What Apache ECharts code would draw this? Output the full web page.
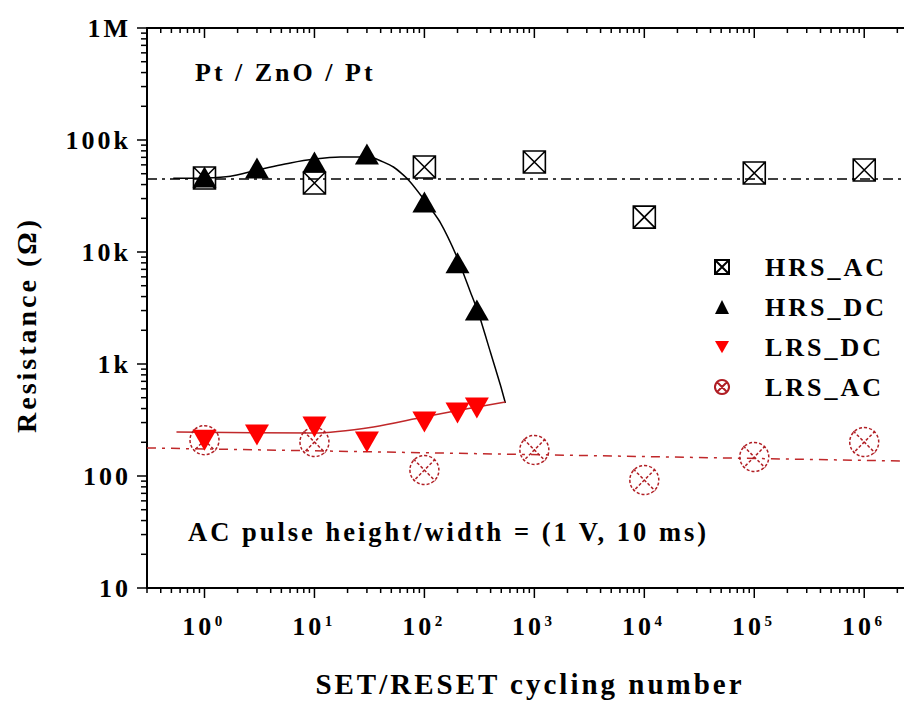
<!DOCTYPE html>
<html>
<head>
<meta charset="utf-8">
<script src="https://cdn.jsdelivr.net/npm/echarts@6/dist/echarts.min.js"></script>
<style>
  html, body { margin: 0; padding: 0; background: #fff; }
  #chart { width: 904px; height: 701px; }
  #chart text { letter-spacing: 3px; }
</style>
</head>
<body>
<div id="chart"></div>
<script>
// measured points
const hrsAcX = [1, 10, 100, 1000, 10000, 100000, 1000000];
const hrsAcY = [45800, 41300, 57400, 63600, 20500, 50700, 54000];

const hrsDcX = [1, 3, 10, 30, 100, 200, 300];
const hrsDcY = [46800, 56200, 63700, 75000, 27900, 8000, 3030];

const lrsDcX = [1, 3, 10, 30, 100, 200, 300];
const lrsDcY = [209, 232, 274, 201, 303, 365, 405];

const lrsAcX = [1, 10, 100, 1000, 10000, 100000, 1000000];
const lrsAcY = [209, 201, 113, 171, 92, 148, 201];

// fitted / guide lines
const hrsDcFitX = [0.52, 1, 1.72, 3.03, 6.05, 10, 17.2, 26.2, 34.4, 52.3, 71.6, 100, 140, 200, 262, 310, 398, 491, 545];
const hrsDcFitY = [45500, 45800, 47500, 54000, 62400, 67600, 70500, 70500, 69000, 57400, 44000, 29100, 18200, 8800, 4390, 2850, 1280, 650, 449];

const lrsDcFitX = [0.556, 9.8, 34.4, 98, 212, 545];
const lrsDcFitY = [247, 242, 274, 336, 388, 458];

const hrsAcMeanX = [0.3, 2.3e6];
const hrsAcMeanY = [44900, 44900];

const lrsAcTrendX = [0.3, 2.3e6];
const lrsAcTrendY = [178, 136];

// axes
const xMin = 0.3, xMax = 2.3e6;
const yMin = 10, yMax = 1e6;
const yTickValues = [10, 100, 1000, 10000, 100000, 1000000];
const yTickLabels = ['10', '100', '1k', '10k', '100k', '1M'];
const xTickValues = [1, 10, 100, 1000, 10000, 100000, 1000000];
const xTickLabels = ['0', '1', '2', '3', '4', '5', '6'];

const FONT = '"Liberation Serif", "Times New Roman", serif';

function pairs(xs, ys) {
    return xs.map((x, i) => [x, ys[i]]);
}

// tick marks (major + 2..9 minor), lengths in px
const xTicks = [];
for (let k = -1; k <= 6; k++) {
    for (let m = 1; m <= 9; m++) {
        const v = m * Math.pow(10, k);
        if (v >= xMin && v <= xMax) xTicks.push([v, yMin, m === 1 ? 10 : 5]);
    }
}
const yTicks = [];
for (let k = 1; k <= 6; k++) {
    for (let m = 1; m <= 9; m++) {
        const v = m * Math.pow(10, k);
        if (v <= yMax) yTicks.push([xMin, v, m === 1 ? 10 : 6]);
    }
}

const squareX = 'path://M0,0H20V20H0Z M0,0L20,20 M20,0L0,20';
const circleX = 'path://M12,2A10,10,0,1,1,11.99,2Z M4.5,4.5L19.5,19.5 M19.5,4.5L4.5,19.5';
const downTri = 'path://M0,0H24L12,21Z';

const red = '#c0282a';

const chart = echarts.init(document.getElementById('chart'), null, {renderer: 'svg'});

chart.setOption({
    animation: false,
    backgroundColor: '#fff',
    grid: {left: 147, right: 0, top: 28, bottom: 113, outerBoundsMode: 'none'},
    xAxis: [{
        type: 'log', logBase: 10, min: xMin, max: xMax, splitNumber: 7,
        axisLine: {lineStyle: {color: '#000', width: 2}},
        axisTick: {show: false},
        splitLine: {show: false},
        axisLabel: {
            margin: 21,
            formatter: function (v) {
                const i = xTickValues.findIndex(t => Math.abs(Math.log10(t) - Math.log10(v)) < 1e-6);
                if (i < 0) return '';
                return '{b|10}{s|' + xTickLabels[i] + '}';
            },
            rich: {
                b: {fontFamily: FONT, fontWeight: 'bold', fontSize: 26, color: '#000', lineHeight: 30, verticalAlign: 'bottom'},
                s: {fontFamily: FONT, fontWeight: 'bold', fontSize: 15, color: '#000', lineHeight: 16, verticalAlign: 'top', padding: [4, 0, 0, 5]}
            }
        }
    }, {
        type: 'log', logBase: 10, min: xMin, max: xMax, position: 'top',
        axisLine: {lineStyle: {color: '#000', width: 2}},
        axisTick: {show: false},
        axisLabel: {show: false},
        splitLine: {show: false}
    }],
    yAxis: {
        type: 'log', logBase: 10, min: yMin, max: yMax,
        axisLine: {lineStyle: {color: '#000', width: 2}},
        axisTick: {show: false},
        splitLine: {show: false},
        axisLabel: {
            margin: 16,
            fontFamily: FONT, fontWeight: 'bold', fontSize: 26, color: '#000',
            formatter: function (v) {
                const i = yTickValues.findIndex(t => Math.abs(Math.log10(t) - Math.log10(v)) < 1e-6);
                return i < 0 ? '' : yTickLabels[i];
            }
        }
    },
    legend: {
        orient: 'vertical', left: 709, top: 247,
        itemWidth: 14, itemHeight: 14, itemGap: 10,
        selectedMode: false,
        data: ['HRS_AC', 'HRS_DC', 'LRS_DC', 'LRS_AC'],
        textStyle: {fontFamily: FONT, fontWeight: 'bold', fontSize: 26, color: '#000', lineHeight: 30, padding: [0, 0, 0, 31]}
    },
    graphic: [
        {type: 'text', x: 195, y: 72, silent: true,
         style: {text: 'Pt / ZnO / Pt', font: 'bold 26px ' + FONT, fill: '#000', textVerticalAlign: 'middle'}},
        {type: 'text', x: 188, y: 532, silent: true,
         style: {text: 'AC pulse height/width = (1 V, 10 ms)', font: 'bold 26.5px ' + FONT, fill: '#000', textVerticalAlign: 'middle'}},
        {type: 'text', x: 26, y: 325, rotation: Math.PI / 2, silent: true,
         style: {text: 'Resistance (Ω)', font: 'bold 28px ' + FONT, fill: '#000', textAlign: 'center', textVerticalAlign: 'middle'}},
        {type: 'text', x: 530, y: 684, silent: true,
         style: {text: 'SET/RESET cycling number', font: 'bold 29px ' + FONT, fill: '#000', textAlign: 'center', textVerticalAlign: 'middle'}}
    ],
    series: [
        {
            name: 'hrsAcMean', type: 'line', symbol: 'none', silent: true, z: 2,
            data: pairs(hrsAcMeanX, hrsAcMeanY),
            lineStyle: {color: '#000', width: 1.5, type: [10, 5, 3, 5]}
        },
        {
            name: 'lrsAcTrend', type: 'line', symbol: 'none', silent: true, z: 2,
            data: pairs(lrsAcTrendX, lrsAcTrendY),
            lineStyle: {color: red, width: 1.5, type: [9, 6, 3, 6]}
        },
        {
            name: 'hrsDcFit', type: 'line', symbol: 'none', silent: true, z: 2, smooth: 0.2,
            data: pairs(hrsDcFitX, hrsDcFitY),
            lineStyle: {color: '#000', width: 1.5}
        },
        {
            name: 'lrsDcFit', type: 'line', symbol: 'none', silent: true, z: 2, smooth: 0.3,
            data: pairs(lrsDcFitX, lrsDcFitY),
            lineStyle: {color: red, width: 1.5}
        },
        {
            name: 'HRS_AC', type: 'scatter', symbol: squareX, symbolSize: 22, z: 5,
            data: pairs(hrsAcX, hrsAcY),
            itemStyle: {color: 'rgba(0,0,0,0)', borderColor: '#000', borderWidth: 1.6, opacity: 1}
        },
        {
            name: 'HRS_DC', type: 'scatter', symbol: 'triangle', symbolSize: [24, 21], z: 6,
            data: pairs(hrsDcX, hrsDcY),
            itemStyle: {color: '#000', opacity: 1}
        },
        {
            name: 'LRS_DC', type: 'scatter', symbol: downTri, symbolSize: [24, 21], z: 6,
            data: pairs(lrsDcX, lrsDcY),
            itemStyle: {color: '#ff0000', opacity: 1}
        },
        {
            name: 'LRS_AC', type: 'scatter', symbol: circleX, symbolSize: 29, z: 5,
            data: pairs(lrsAcX, lrsAcY),
            itemStyle: {color: 'rgba(0,0,0,0)', borderColor: '#b01e24', borderWidth: 1.5, borderType: [3, 2], opacity: 1}
        },
        {
            name: 'xTicks', type: 'custom', silent: true, clip: false, z: 10,
            data: xTicks,
            encode: {x: 0, y: 1},
            renderItem: function (params, api) {
                const v = api.value(0), len = api.value(2);
                const b = api.coord([v, yMin]);
                const t = api.coord([v, yMax]);
                return {type: 'group', children: [
                    {type: 'line', shape: {x1: b[0], y1: b[1], x2: b[0], y2: b[1] + len}, style: {stroke: '#000', lineWidth: 1.5}},
                    {type: 'line', shape: {x1: t[0], y1: t[1], x2: t[0], y2: t[1] + len}, style: {stroke: '#000', lineWidth: 1.5}}
                ]};
            }
        },
        {
            name: 'yTicks', type: 'custom', silent: true, clip: false, z: 10,
            data: yTicks,
            encode: {x: 0, y: 1},
            renderItem: function (params, api) {
                const v = api.value(1), len = api.value(2);
                const p = api.coord([xMin, v]);
                return {type: 'line', shape: {x1: p[0] - len, y1: p[1], x2: p[0], y2: p[1]}, style: {stroke: '#000', lineWidth: 1.5}};
            }
        }
    ]
});
</script>
</body>
</html>
